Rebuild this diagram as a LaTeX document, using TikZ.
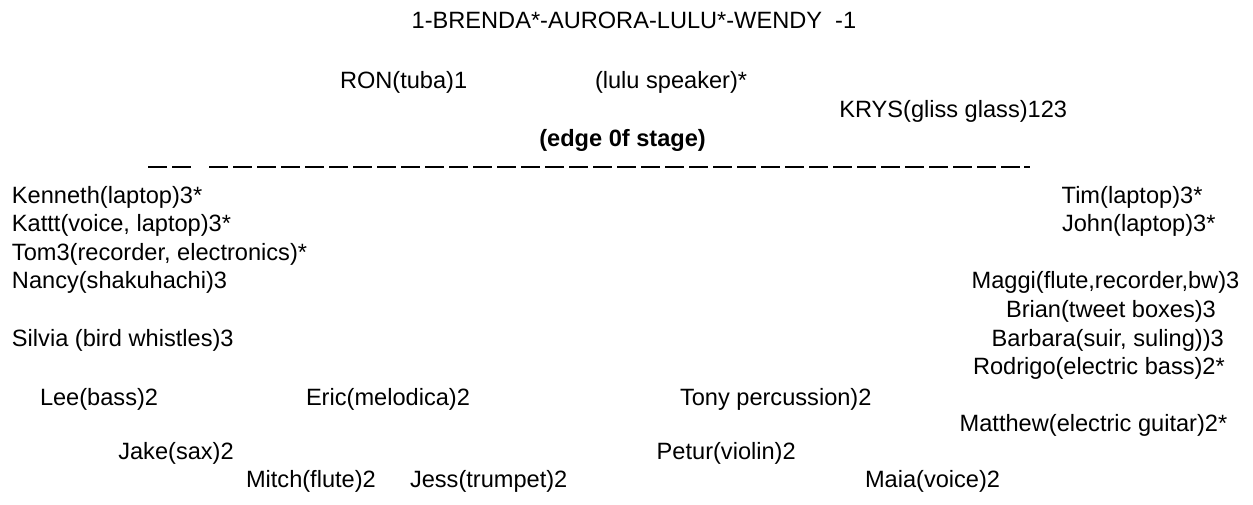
\documentclass[tikz,border=0pt]{standalone}
\usepackage{fontspec}
\setmainfont{Liberation Sans}
\usepackage{tikz}
\tikzset{
    every node/.style={anchor=base west, inner sep=0pt, outer sep=0pt,
    	font=\fontsize{23.6pt}{28pt}\selectfont}
}
\tikzset{
    stage edge/.style={line width=1.8pt, dash pattern=on 18.7pt off 5.3pt}
}

\begin{document}
\begin{tikzpicture}[x=1pt, y=-1pt]
	\useasboundingbox (0,0) rectangle (1253,504);
	% front line
	\node (title) at (411.7,28) {1-BRENDA*-AURORA-LULU*-WENDY\ \ -1};
	\node (ron) at (340,88.6) {RON(tuba)1};
	\node (speaker) at (595,88.6) {(lulu speaker)*};
	\node (krys) at (839.3,117.2) {KRYS(gliss glass)123};
	\node (edge) [font=\fontsize{23.6pt}{28pt}\selectfont\bfseries] at (539.3,146) {(edge 0f stage)};
	
	\coordinate (e1) at (148,167); \coordinate (e2) at (191,167);
	\coordinate (e3) at (209,167); \coordinate (e4) at (1020,167);
	\coordinate (e5) at (1024,167); \coordinate (e6) at (1030,167);
	\draw[stage edge] (e1) -- (e2); \draw[stage edge] (e3) -- (e4);
	\draw[line width=1.8pt] (e5) -- (e6);
	
	% left side
	\node (kenneth) at (12,203) {Kenneth(laptop)3*};
	\node (kattt) at (12,231.6) {Kattt(voice, laptop)3*};
	\node (tom) at (12,260.2) {Tom3(recorder, electronics)*};
	\node (nancy) at (12,288.8) {Nancy(shakuhachi)3};
	\node (silvia) at (12,346) {Silvia (bird whistles)3};
	
	% right side
	\node (tim) at (1061.7,203) {Tim(laptop)3*};
	\node (john) at (1062,231.6) {John(laptop)3*};
	\node (maggi) at (971.7,288.8) {Maggi(flute,recorder,bw)3};
	\node (brian) at (1006,317.4) {Brian(tweet boxes)3};
	\node (barbara) at (991.7,346) {Barbara(suir, suling))3};
	\node (rodrigo) at (973,374.6) {Rodrigo(electric bass)2*};
	
	% back rows
	\node (lee) at (40,405.5) {Lee(bass)2};
	\node (eric) at (306,405.5) {Eric(melodica)2};
	\node (tony) at (680,405.5) {Tony percussion)2};
	\node (matthew) at (959.7,431.8) {Matthew(electric guitar)2*};
	\node (jake) at (118.3,459.5) {Jake(sax)2};
	\node (petur) at (656.7,459.5) {Petur(violin)2};
	\node (mitch) at (246,487.5) {Mitch(flute)2};
	\node (jess) at (410,487.5) {Jess(trumpet)2};
	\node (maia) at (865,487.5) {Maia(voice)2};
\end{tikzpicture}
\end{document}
